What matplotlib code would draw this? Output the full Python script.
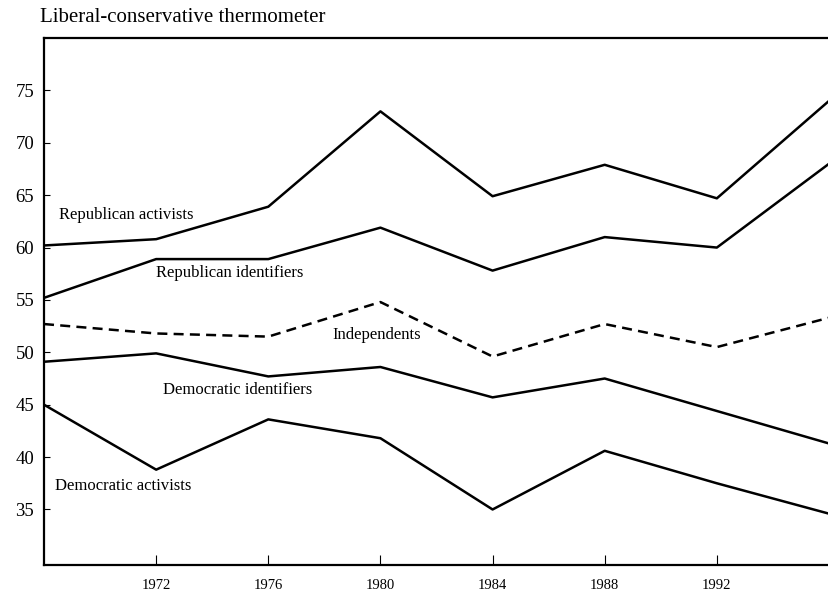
import matplotlib
matplotlib.use("Agg")
import matplotlib.pyplot as plt

plt.rcParams['font.family'] = ['Liberation Serif', 'DejaVu Serif']

# election years
years = [1968, 1972, 1976, 1980, 1984, 1988, 1992, 1996]

# thermometer scores
rep_activists = [60.2, 60.8, 63.9, 73.0, 64.9, 67.9, 64.7, 74.0]
rep_identifiers = [55.2, 58.9, 58.9, 61.9, 57.8, 61.0, 60.0, 68.0]
independents = [52.7, 51.8, 51.5, 54.8, 49.6, 52.7, 50.5, 53.3]
dem_identifiers = [49.1, 49.9, 47.7, 48.6, 45.7, 47.5, 44.4, 41.3]
dem_activists = [45.0, 38.8, 43.6, 41.8, 35.0, 40.6, 37.5, 34.6]

xticks = [1972, 1976, 1980, 1984, 1988, 1992]
yticks = [35, 40, 45, 50, 55, 60, 65, 70, 75]

# label text and where it sits (data coords, left edge / centre)
labels = ['Republican activists', 'Republican identifiers', 'Independents',
          'Democratic identifiers', 'Democratic activists']
label_x = [1968.55, 1972.0, 1978.3, 1972.25, 1968.4]
label_y = [63.15, 57.6, 51.7, 46.45, 37.2]

fig = plt.figure(figsize=(8.29, 5.97), dpi=100)
ax = fig.add_axes([0.0531, 0.0536, 0.9469, 0.8827])

lw = 1.8
ax.plot(years, rep_activists, color='black', lw=lw)
ax.plot(years, rep_identifiers, color='black', lw=lw)
ax.plot(years, independents, color='black', lw=lw, linestyle=(0, (4, 2.5)))
ax.plot(years, dem_identifiers, color='black', lw=lw)
ax.plot(years, dem_activists, color='black', lw=lw)

for txt, lx, ly in zip(labels, label_x, label_y):
    ax.text(lx, ly, txt, fontsize=12, ha='left', va='center')

ax.set_xlim(1968, 1996)
ax.set_ylim(29.7, 80)
ax.set_xticks(xticks)
ax.set_yticks(yticks)
ax.tick_params(axis='x', direction='in', length=7, width=0.8, labelsize=10.5, pad=10)
ax.tick_params(axis='y', direction='in', length=4, width=0.8, labelsize=13.5, pad=7)

for side in ['left', 'bottom', 'top']:
    ax.spines[side].set_linewidth(1.6)
ax.spines['right'].set_visible(False)

fig.text(40 / 829, 1 - 18 / 597, 'Liberal-conservative thermometer',
         fontsize=15, ha='left', va='center')

fig.savefig('out.png', dpi=100)
